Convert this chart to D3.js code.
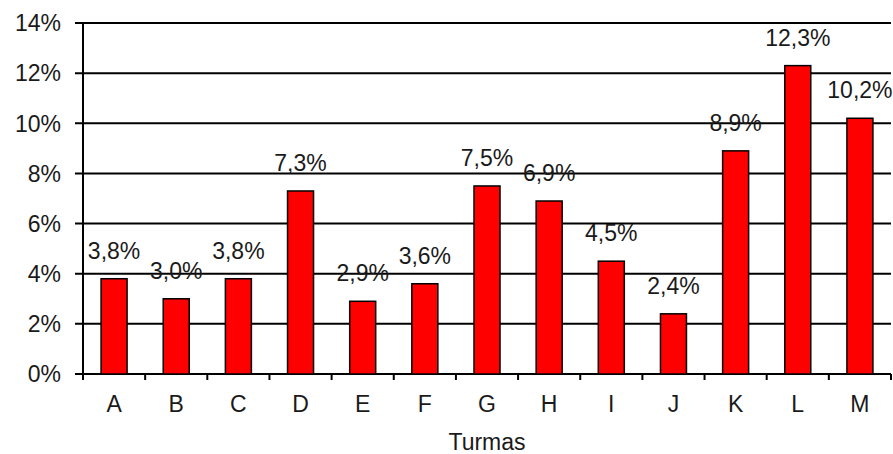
<!DOCTYPE html>
<html>
<head>
<meta charset="utf-8">
<script src="https://cdn.jsdelivr.net/npm/d3@7"></script>
<style>
  html, body { margin: 0; padding: 0; background: #fff; }
  svg { display: block; }
  text { font-family: "Liberation Sans", Arial, sans-serif; fill: #1a1a1a; }
</style>
</head>
<body>
<svg id="chart" width="893" height="454"></svg>
<script>
// Share of students per class (turma), in percent
const categories = ["A", "B", "C", "D", "E", "F", "G", "H", "I", "J", "K", "L", "M"];
const values = [3.8, 3.0, 3.8, 7.3, 2.9, 3.6, 7.5, 6.9, 4.5, 2.4, 8.9, 12.3, 10.2];
const yTicks = [0, 2, 4, 6, 8, 10, 12, 14];
const xTitle = "Turmas";

const svg = d3.select("#chart");
const plotLeft = 83, plotRight = 891, plotTop = 23, plotBottom = 374;
const fontSize = 23;

const x = d3.scaleBand().domain(categories).range([plotLeft, plotRight]).paddingInner(0).paddingOuter(0);
const y = d3.scaleLinear().domain([0, 14]).range([plotBottom, plotTop]);

const fmt = v => d3.format(".1f")(v).replace(".", ",") + "%";

// horizontal gridlines, extended left to form the tick marks
svg.append("g").selectAll("line").data(yTicks).join("line")
  .attr("x1", plotLeft - 8).attr("x2", plotRight)
  .attr("y1", d => y(d)).attr("y2", d => y(d))
  .attr("stroke", "#000").attr("stroke-width", 2);

// y axis labels
svg.append("g").selectAll("text").data(yTicks).join("text")
  .attr("x", 61).attr("y", d => y(d))
  .attr("dy", "0.36em")
  .attr("text-anchor", "end")
  .attr("font-size", fontSize)
  .text(d => d + "%");

// vertical axis line
svg.append("line")
  .attr("x1", plotLeft).attr("x2", plotLeft)
  .attr("y1", plotTop).attr("y2", plotBottom + 6)
  .attr("stroke", "#000").attr("stroke-width", 2);

// x axis ticks at category boundaries
const bounds = categories.map(c => x(c)).concat([plotRight]);
svg.append("g").selectAll("line").data(bounds).join("line")
  .attr("x1", d => d).attr("x2", d => d)
  .attr("y1", plotBottom).attr("y2", plotBottom + 6)
  .attr("stroke", "#000").attr("stroke-width", 2);

// bars
const barW = 26;
svg.append("g").selectAll("rect").data(values).join("rect")
  .attr("x", (d, i) => x(categories[i]) + x.bandwidth() / 2 - barW / 2)
  .attr("y", d => y(d))
  .attr("width", barW)
  .attr("height", d => plotBottom - y(d))
  .attr("fill", "#ff0000")
  .attr("stroke", "#000").attr("stroke-width", 1.5);

// value labels
svg.append("g").selectAll("text").data(values).join("text")
  .attr("x", (d, i) => x(categories[i]) + x.bandwidth() / 2)
  .attr("y", d => y(d) - 20)
  .attr("text-anchor", "middle")
  .attr("font-size", fontSize)
  .text(d => fmt(d));

// category labels
svg.append("g").selectAll("text").data(categories).join("text")
  .attr("x", d => x(d) + x.bandwidth() / 2)
  .attr("y", 412)
  .attr("text-anchor", "middle")
  .attr("font-size", fontSize)
  .text(d => d);

// axis title, centred under the plot
svg.append("text")
  .attr("x", (plotLeft + plotRight) / 2).attr("y", 450)
  .attr("text-anchor", "middle")
  .attr("font-size", fontSize)
  .text(xTitle);
</script>
</body>
</html>
